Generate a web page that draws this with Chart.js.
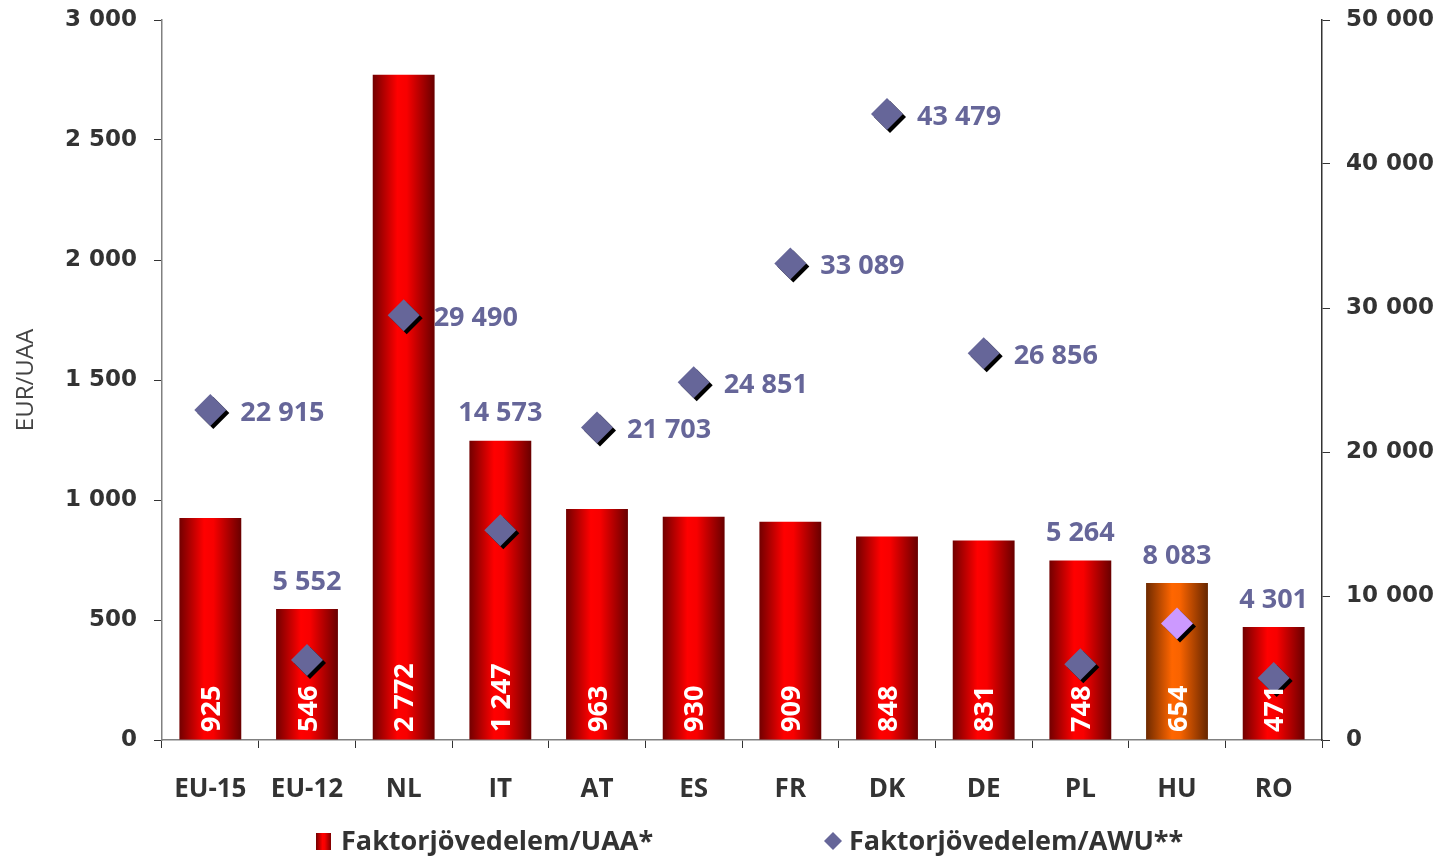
<!DOCTYPE html>
<html>
<head>
<meta charset="utf-8">
<script src="https://cdn.jsdelivr.net/npm/chart.js@4"></script>
<style>
  body { margin: 0; background: #fff; }
  canvas { display: block; }
</style>
</head>
<body>
<canvas id="chart" width="1441" height="856"></canvas>
<script>
// ===== Data =====
const categories = ["EU-15", "EU-12", "NL", "IT", "AT", "ES", "FR", "DK", "DE", "PL", "HU", "RO"];
const incomePerUAA = [925, 546, 2772, 1247, 963, 930, 909, 848, 831, 748, 654, 471];
const incomePerAWU = [22915, 5552, 29490, 14573, 21703, 24851, 33089, 43479, 26856, 5264, 8083, 4301];
const leftTicks = [0, 500, 1000, 1500, 2000, 2500, 3000];
const rightTicks = [0, 10000, 20000, 30000, 40000, 50000];

const highlight = "HU";
const labelAbove = ["EU-12", "IT", "PL", "HU", "RO"];

const fmt = v => String(v).replace(/\B(?=(\d{3})+(?!\d))/g, " ");
const LABEL_FONT = "bold 27px 'Open Sans'";
const TICK_FONT = { family: "'DejaVu Sans'", size: 23, weight: "bold" };

function barGradient(c, x, half, orange) {
    const g = c.createLinearGradient(x - half, 0, x + half, 0);
    if (orange) {
        g.addColorStop(0, "#6e2a00");
        g.addColorStop(0.42, "#ff6600");
        g.addColorStop(0.55, "#f86300");
        g.addColorStop(1, "#662600");
    } else {
        g.addColorStop(0, "#720000");
        g.addColorStop(0.4, "#ff0000");
        g.addColorStop(0.55, "#f80000");
        g.addColorStop(1, "#680000");
    }
    return g;
}

// ===== Plugins =====
const diamondShadow = {
    id: "diamondShadow",
    beforeDatasetDraw(chart, args) {
        if (chart.data.datasets[args.index].type !== "line") return;
        const c = chart.ctx;
        c.save();
        c.shadowColor = "#000";
        c.shadowOffsetX = 3;
        c.shadowOffsetY = 3;
        c.shadowBlur = 0;
    },
    afterDatasetDraw(chart, args) {
        if (chart.data.datasets[args.index].type !== "line") return;
        chart.ctx.restore();
    }
};

const valueLabels = {
    id: "valueLabels",
    afterDatasetsDraw(chart) {
        const c = chart.ctx;
        const bars = chart.getDatasetMeta(0).data;
        const pts = chart.getDatasetMeta(1).data;

        // AWU labels
        c.save();
        c.font = LABEL_FONT;
        c.fillStyle = "#666699";
        c.textBaseline = "middle";
        pts.forEach((p, i) => {
            const txt = fmt(incomePerAWU[i]);
            if (labelAbove.includes(categories[i])) {
                c.textAlign = "center";
                c.fillText(txt, bars[i].x, bars[i].y - 27);
            } else {
                c.textAlign = "left";
                c.fillText(txt, p.x + 30, p.y + 3);
            }
        });
        c.restore();

        // UAA labels inside the bars
        c.save();
        c.font = LABEL_FONT;
        c.fillStyle = "#fff";
        c.textAlign = "left";
        c.textBaseline = "middle";
        bars.forEach((b, i) => {
            c.save();
            c.translate(b.x + 2, chart.chartArea.bottom - 8);
            c.rotate(-Math.PI / 2);
            c.fillText(fmt(incomePerUAA[i]), 0, 0);
            c.restore();
        });
        c.restore();

        // legend
        c.save();
        c.font = LABEL_FONT;
        c.textAlign = "left";
        c.textBaseline = "middle";
        const ly = 842;
        c.fillStyle = barGradient(c, 324, 8, false);
        c.fillRect(316, 833, 15, 17);
        c.fillStyle = "#333";
        c.fillText(chart.data.datasets[0].label, 341, ly);
        c.fillStyle = "#666699";
        c.beginPath();
        c.moveTo(833, 832);
        c.lineTo(842, 841);
        c.lineTo(833, 850);
        c.lineTo(824, 841);
        c.closePath();
        c.fill();
        c.fillStyle = "#333";
        c.fillText(chart.data.datasets[1].label, 849, ly);
        c.restore();
    }
};

// ===== Chart =====
const ctx = document.getElementById("chart").getContext("2d");

new Chart(ctx, {
    data: {
        labels: categories,
        datasets: [
            {
                type: "bar",
                label: "Faktorjövedelem/UAA*",
                data: incomePerUAA,
                yAxisID: "y",
                order: 1,
                barPercentage: 0.64,
                categoryPercentage: 1,
                backgroundColor: c => {
                    const chart = c.chart;
                    if (!chart.chartArea || c.type !== "data") return "#ff0000";
                    const x = chart.scales.x.getPixelForValue(c.dataIndex);
                    return barGradient(chart.ctx, x, 31, categories[c.dataIndex] === highlight);
                }
            },
            {
                type: "line",
                label: "Faktorjövedelem/AWU**",
                data: incomePerAWU,
                yAxisID: "y1",
                order: 0,
                showLine: false,
                pointStyle: "rectRot",
                pointRadius: 16,
                pointHoverRadius: 16,
                pointBorderWidth: 0,
                pointBackgroundColor: categories.map(c => c === highlight ? "#cc99ff" : "#666699")
            }
        ]
    },
    options: {
        responsive: false,
        animation: false,
        layout: { padding: { top: 20, left: 0, right: 0, bottom: 0 } },
        plugins: {
            legend: { display: false },
            tooltip: { enabled: false }
        },
        scales: {
            x: {
                afterFit: s => { s.height = 116; s.paddingLeft = 0; s.paddingRight = 0; },
                border: { color: "#808080", width: 1.5 },
                grid: { drawOnChartArea: false, tickLength: 8, color: "#333" },
                ticks: {
                    padding: 26,
                    color: "#333",
                    font: { family: "'Open Sans'", size: 26, weight: "bold" }
                }
            },
            y: {
                position: "left",
                min: 0,
                max: 3000,
                afterFit: s => { s.width = 162; s.paddingTop = 0; s.paddingBottom = 0; },
                afterBuildTicks: s => { s.ticks = leftTicks.map(v => ({ value: v })); },
                border: { color: "#808080", width: 1.5 },
                grid: { drawOnChartArea: false, tickLength: 8, color: "#333" },
                ticks: {
                    padding: 17,
                    color: "#333",
                    font: TICK_FONT,
                    callback: v => fmt(v)
                },
                title: {
                    display: true,
                    text: "EUR/UAA",
                    color: "#444",
                    font: { family: "'Open Sans'", size: 24 },
                    padding: { top: 12, bottom: 0 }
                }
            },
            y1: {
                position: "right",
                min: 0,
                max: 50000,
                afterFit: s => { s.width = 119; s.paddingTop = 0; s.paddingBottom = 0; },
                afterBuildTicks: s => { s.ticks = rightTicks.map(v => ({ value: v })); },
                border: { color: "#333", width: 1.5 },
                grid: { drawOnChartArea: false, tickLength: 8, color: "#333" },
                ticks: {
                    padding: 16,
                    color: "#333",
                    font: TICK_FONT,
                    callback: v => fmt(v)
                }
            }
        }
    },
    plugins: [diamondShadow, valueLabels]
});
</script>
</body>
</html>
